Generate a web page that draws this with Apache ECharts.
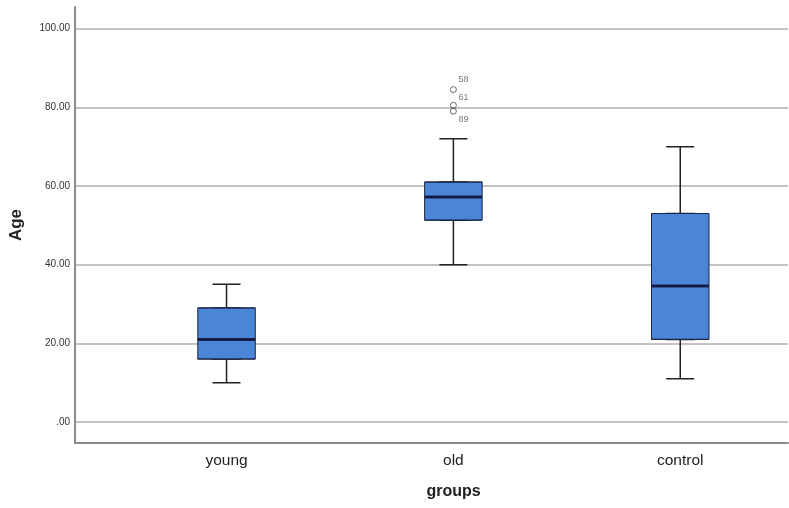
<!DOCTYPE html>
<html>
<head>
<meta charset="utf-8">
<script src="https://cdn.jsdelivr.net/npm/echarts@6/dist/echarts.min.js"></script>
<style>
html,body{margin:0;padding:0;background:#fff;}
#chart{width:789px;height:508px;}
</style>
</head>
<body>
<div id="chart"></div>
<script>
// ---- data ----
var categories = ['young', 'old', 'control'];
var categoryPos = [1, 2, 3];
var whiskerLow = [10, 40, 11];
var q1 = [16, 51.3, 21];
var median = [21, 57.2, 34.6];
var q3 = [29, 61, 53];
var whiskerHigh = [35, 72, 70];
var outlierGroup = [2, 2, 2];
var outlierValues = [84.5, 80.5, 79];
var outlierLabels = ['58', '61', '89'];
var yTicks = [0, 20, 40, 60, 80, 100];
var yTickLabels = ['.00', '20.00', '40.00', '60.00', '80.00', '100.00'];

// ---- build series data ----
var fullBoxes = categoryPos.map(function (p, i) {
  return [p, whiskerLow[i], q1[i], median[i], q3[i], whiskerHigh[i]];
});
var bodyBoxes = categoryPos.map(function (p, i) {
  return [p, q1[i], q1[i], median[i], q3[i], q3[i]];
});
var medianPts = categoryPos.map(function (p, i) { return [p, median[i]]; });
var outlierPts = outlierValues.map(function (v, i) {
  return { value: [outlierGroup[i], v], name: outlierLabels[i] };
});
var labelOffsets = [[10, -10], [10, -8], [10, 8]];

var FONT = 'Liberation Sans, Arial, sans-serif';
var xMin = 0.332, xMax = 3.475;

var chart = echarts.init(document.getElementById('chart'), null, { renderer: 'canvas' });
chart.setOption({
  animation: false,
  backgroundColor: '#ffffff',
  grid: { left: 73, right: 1, top: 7, bottom: 65, containLabel: false },
  xAxis: [{
    type: 'value', min: xMin, max: xMax,
    name: 'groups', nameLocation: 'middle', nameGap: 41,
    nameTextStyle: { fontFamily: FONT, fontSize: 16, fontWeight: 'bold', color: '#222', padding: [0, 0, 0, 44] },
    axisLine: { show: true, onZero: false, lineStyle: { color: '#8c8c8c', width: 2 } },
    axisTick: { show: false, customValues: categoryPos },
    splitLine: { show: false },
    axisLabel: {
      customValues: categoryPos, margin: 10,
      fontFamily: FONT, fontSize: 15.5, color: '#222',
      formatter: function (v) { return categories[Math.round(v) - 1] || ''; }
    }
  }, {
    type: 'value', min: xMin, max: xMax, show: false
  }],
  yAxis: {
    type: 'value', min: -5.34, max: 105.5,
    name: 'Age', nameLocation: 'middle', nameGap: 50, nameRotate: 90,
    nameTextStyle: { fontFamily: FONT, fontSize: 17, fontWeight: 'bold', color: '#222' },
    axisLine: { show: true, onZero: false, lineStyle: { color: '#8c8c8c', width: 2 } },
    axisTick: { show: false, customValues: yTicks },
    splitLine: { show: true, lineStyle: { color: '#b0b0b0', width: 1.5 } },
    axisLabel: {
      customValues: yTicks, margin: 5,
      fontFamily: FONT, fontSize: 10, color: '#333',
      formatter: function (v) { var i = yTicks.indexOf(Math.round(v)); return i >= 0 ? yTickLabels[i] : ''; }
    }
  },
  series: [{
    type: 'boxplot', xAxisIndex: 1, data: fullBoxes,
    boxWidth: [28, 28],
    itemStyle: { color: '#4a85d8', borderColor: '#222', borderWidth: 1.5 },
    z: 2
  }, {
    type: 'boxplot', xAxisIndex: 0, data: bodyBoxes,
    boxWidth: [57.5, 57.5],
    itemStyle: { color: '#4a85d8', borderColor: '#1a2340', borderWidth: 1 },
    z: 3
  }, {
    type: 'scatter', xAxisIndex: 0, data: medianPts,
    symbol: 'rect', symbolSize: [57, 3],
    itemStyle: { color: '#0c0c30' },
    z: 4
  }, {
    type: 'scatter', xAxisIndex: 0, data: outlierPts,
    symbol: 'circle', symbolSize: 6,
    itemStyle: { color: 'rgba(255,255,255,0)', borderColor: '#444', borderWidth: 1 },
    label: {
      show: true, position: 'inside',
      formatter: function (p) { return p.name; },
      fontFamily: FONT, fontSize: 9, color: '#555'
    },
    labelLayout: function (params) {
      var off = labelOffsets[params.dataIndex];
      return { x: params.rect.x + params.rect.width / 2 + off[0], y: params.rect.y + params.rect.height / 2 + off[1], align: 'center', verticalAlign: 'middle' };
    },
    z: 5
  }]
});
</script>
</body>
</html>
